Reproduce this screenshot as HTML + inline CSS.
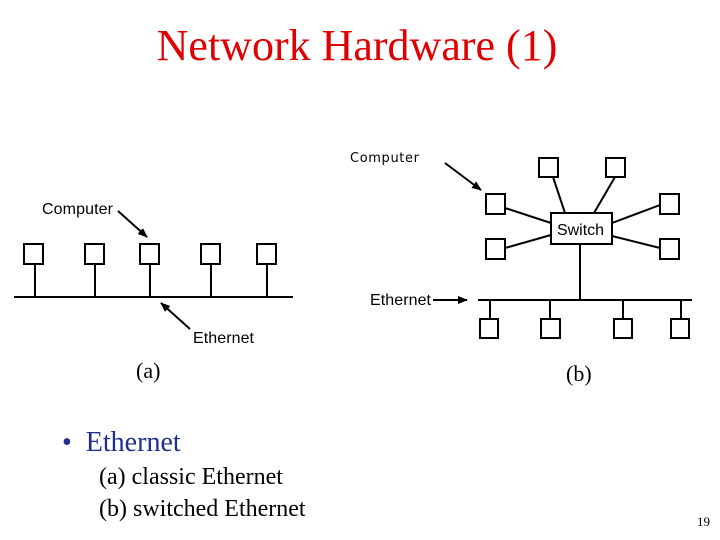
<!DOCTYPE html>
<html><head><style>
body{margin:0;width:720px;height:540px;background:#fff;overflow:hidden;position:relative;font-family:"Liberation Serif",serif}
.t{position:absolute;white-space:nowrap}
</style></head><body>
<div class="t" style="left:0;width:714px;text-align:center;top:20px;font-size:44px;color:#e00000">Network Hardware (1)</div>
<svg width="720" height="540" style="position:absolute;left:0;top:0" font-family="Liberation Sans, sans-serif">
<defs><marker id="a" markerWidth="10" markerHeight="8" refX="9" refY="4" orient="auto" markerUnits="userSpaceOnUse"><path d="M0,0 L10,4 L0,8z" fill="#000"/></marker></defs>
<g stroke="#000" stroke-width="2" fill="none">
<line x1="14" y1="297" x2="293" y2="297"/>
<rect x="24" y="244" width="19" height="20"/><rect x="85" y="244" width="19" height="20"/><rect x="140" y="244" width="19" height="20"/><rect x="201" y="244" width="19" height="20"/><rect x="257" y="244" width="19" height="20"/>
<line x1="35" y1="264" x2="35" y2="297"/><line x1="95" y1="264" x2="95" y2="297"/><line x1="150" y1="264" x2="150" y2="297"/><line x1="211" y1="264" x2="211" y2="297"/><line x1="267" y1="264" x2="267" y2="297"/>
<line x1="118" y1="211" x2="147" y2="237" marker-end="url(#a)"/>
<line x1="190" y1="329" x2="161" y2="303" marker-end="url(#a)"/>

<rect x="551" y="213" width="61" height="31"/>
<rect x="539" y="158" width="19" height="19"/><rect x="606" y="158" width="19" height="19"/>
<rect x="486" y="194" width="19" height="20"/><rect x="486" y="239" width="19" height="20"/>
<rect x="660" y="194" width="19" height="20"/><rect x="660" y="239" width="19" height="20"/>
<line x1="553" y1="177" x2="565" y2="213"/><line x1="615" y1="177" x2="594" y2="213"/>
<line x1="505" y1="208" x2="551" y2="223"/><line x1="505" y1="248" x2="551" y2="235"/>
<line x1="660" y1="205" x2="612" y2="223"/><line x1="660" y1="248" x2="612" y2="236"/>
<line x1="580" y1="244" x2="580" y2="300"/>
<line x1="478" y1="300" x2="692" y2="300"/>
<rect x="480" y="319" width="18" height="19"/><rect x="541" y="319" width="19" height="19"/><rect x="614" y="319" width="18" height="19"/><rect x="671" y="319" width="18" height="19"/>
<line x1="490" y1="300" x2="490" y2="319"/><line x1="550" y1="300" x2="550" y2="319"/><line x1="623" y1="300" x2="623" y2="319"/><line x1="681" y1="300" x2="681" y2="319"/>
<line x1="445" y1="163" x2="481" y2="190" marker-end="url(#a)"/>
<line x1="433" y1="300" x2="467" y2="300" marker-end="url(#a)"/>
</g>
<g font-size="16" fill="#000">
<text x="42" y="214" textLength="71">Computer</text>
<text x="193" y="343" textLength="61">Ethernet</text>
<text x="350" y="162" font-size="13" font-family="DejaVu Sans, sans-serif" textLength="69">Computer</text>
<text x="370" y="305" textLength="61">Ethernet</text>
<text x="557" y="235" textLength="47">Switch</text>
</g>
</svg>
<div class="t" style="left:136px;top:358px;font-size:22px">(a)</div>
<div class="t" style="left:566px;top:361px;font-size:22px">(b)</div>
<div class="t" style="left:62px;top:427px;font-size:28px;color:#1f2f8f">•&nbsp;&nbsp;Ethernet</div>
<div class="t" style="left:99px;top:464px;font-size:24px">(a) classic Ethernet</div>
<div class="t" style="left:99px;top:496px;font-size:24px">(b) switched Ethernet</div>
<div class="t" style="left:697px;top:514px;font-size:13px">19</div>
</body></html>
